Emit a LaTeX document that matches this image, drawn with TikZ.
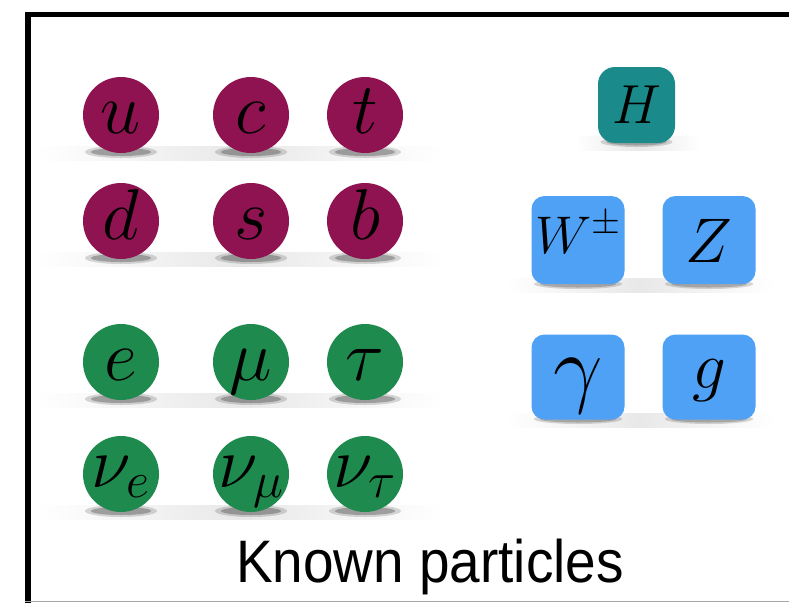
\RequirePackage{fix-cm}
\documentclass[tikz,border=0pt]{standalone}
\usepackage{fontspec}
\newfontfamily\labelfont{Liberation Sans}
\definecolor{quark}{RGB}{142,19,80}
\definecolor{lepton}{RGB}{30,138,78}
\definecolor{gauge}{RGB}{78,161,245}
\definecolor{higgs}{RGB}{26,138,138}
\newcommand{\rowband}[3]{%
  \shade[left color=white,right color=white,middle color=black!9] (#1,#3-7) rectangle (#2,#3+7);}
\newcommand{\ballshadow}[2]{%
  \fill[black,opacity=0.15] (#1,#2+37) ellipse[x radius=36pt,y radius=6pt];
  \fill[black,opacity=0.25] (#1,#2+37) ellipse[x radius=30pt,y radius=4pt];}
\newcommand{\boxshadow}[3]{%
  \fill[black,opacity=0.15] (#1,#2) ellipse[x radius=#3pt,y radius=5pt];
  \fill[black,opacity=0.2] (#1,#2) ellipse[x radius=#3pt-6pt,y radius=3.5pt];}
\tikzset{
  ball/.style={circle,minimum size=76pt,inner sep=0pt,text height=37pt,text depth=0pt,
    font=\fontsize{72}{72}\selectfont},
  nuball/.style={ball,text height=26pt},
  qball/.style={ball,fill=quark},
  lball/.style={ball,fill=lepton},
  nball/.style={nuball,fill=lepton},
  gbox/.style={rounded corners=13pt,minimum width=93pt,minimum height=88pt,inner sep=0pt,fill=gauge,text depth=0pt},
  hbox/.style={rounded corners=17pt,minimum width=77pt,minimum height=76pt,inner sep=0pt,fill=higgs,
    font=\fontsize{55}{55}\selectfont},
  frame/.style={black,line width=5.5pt}
}
\begin{document}
\begin{tikzpicture}[x=1pt,y=-1pt]
\fill[white] (0,0) rectangle (789,603);
\useasboundingbox (0,0) rectangle (789,603);
% shadows
\rowband{35}{445}{153}
\rowband{35}{445}{259}
\rowband{35}{445}{400}
\rowband{35}{445}{512}
\rowband{505}{775}{285}
\rowband{505}{775}{420}
\rowband{575}{700}{143}
\foreach \cx in {121,251,365}{
  \ballshadow{\cx}{115}
  \ballshadow{\cx}{221}
  \ballshadow{\cx}{362}
  \ballshadow{\cx}{474}
}
\boxshadow{578}{284}{44}
\boxshadow{709}{284}{44}
\boxshadow{578}{419}{44}
\boxshadow{709}{419}{44}
\boxshadow{636.5}{142}{36}
% quarks
\node[qball] (u) at (121,115) {$u$};
\node[qball] (c) at (251,115) {$c$};
\node[qball] (t) at (365,115) {$t$};
\node[qball] (d) at (121,221) {$d$};
\node[qball] (s) at (251,221) {$s$};
\node[qball] (b) at (365,221) {$b$};
% leptons
\node[lball] (e) at (121,362) {$e$};
\node[lball] (mu) at (251,362) {$\mu$};
\node[lball] (tau) at (365,362) {$\tau$};
\node[nball] (nue) at (121,474) {$\nu_e$};
\node[nball] (numu) at (251,474) {$\nu_\mu$};
\node[nball] (nutau) at (365,474) {$\nu_\tau$};
% bosons
\node[hbox] (H) at (636.5,105) {$H$};
\node[gbox,text height=26pt,font=\fontsize{53}{53}\selectfont] (W) at (578,240) {$W^\pm$};
\node[gbox,text height=44pt,font=\fontsize{63}{63}\selectfont] (Z) at (709,240) {$Z$};
\node[gbox,minimum height=85pt,text height=38pt,font=\fontsize{88}{88}\selectfont] (gamma) at (578,377) {$\gamma$};
\node[gbox,minimum height=85pt,text height=22pt,font=\fontsize{67}{67}\selectfont] (g) at (709,377) {$g$};
% caption
\node[anchor=base,inner sep=0pt,font=\labelfont\fontsize{60}{60}\selectfont] (title) at (430,582) {\scalebox{0.915}[1]{Known particles}};
% frame
\draw[frame] (25,14.5) -- (789,14.5);
\draw[frame] (28,12) -- (28,603);
\draw[gray!70,line width=1.2pt] (25,601.5) -- (789,601.5);
\end{tikzpicture}
\end{document}
